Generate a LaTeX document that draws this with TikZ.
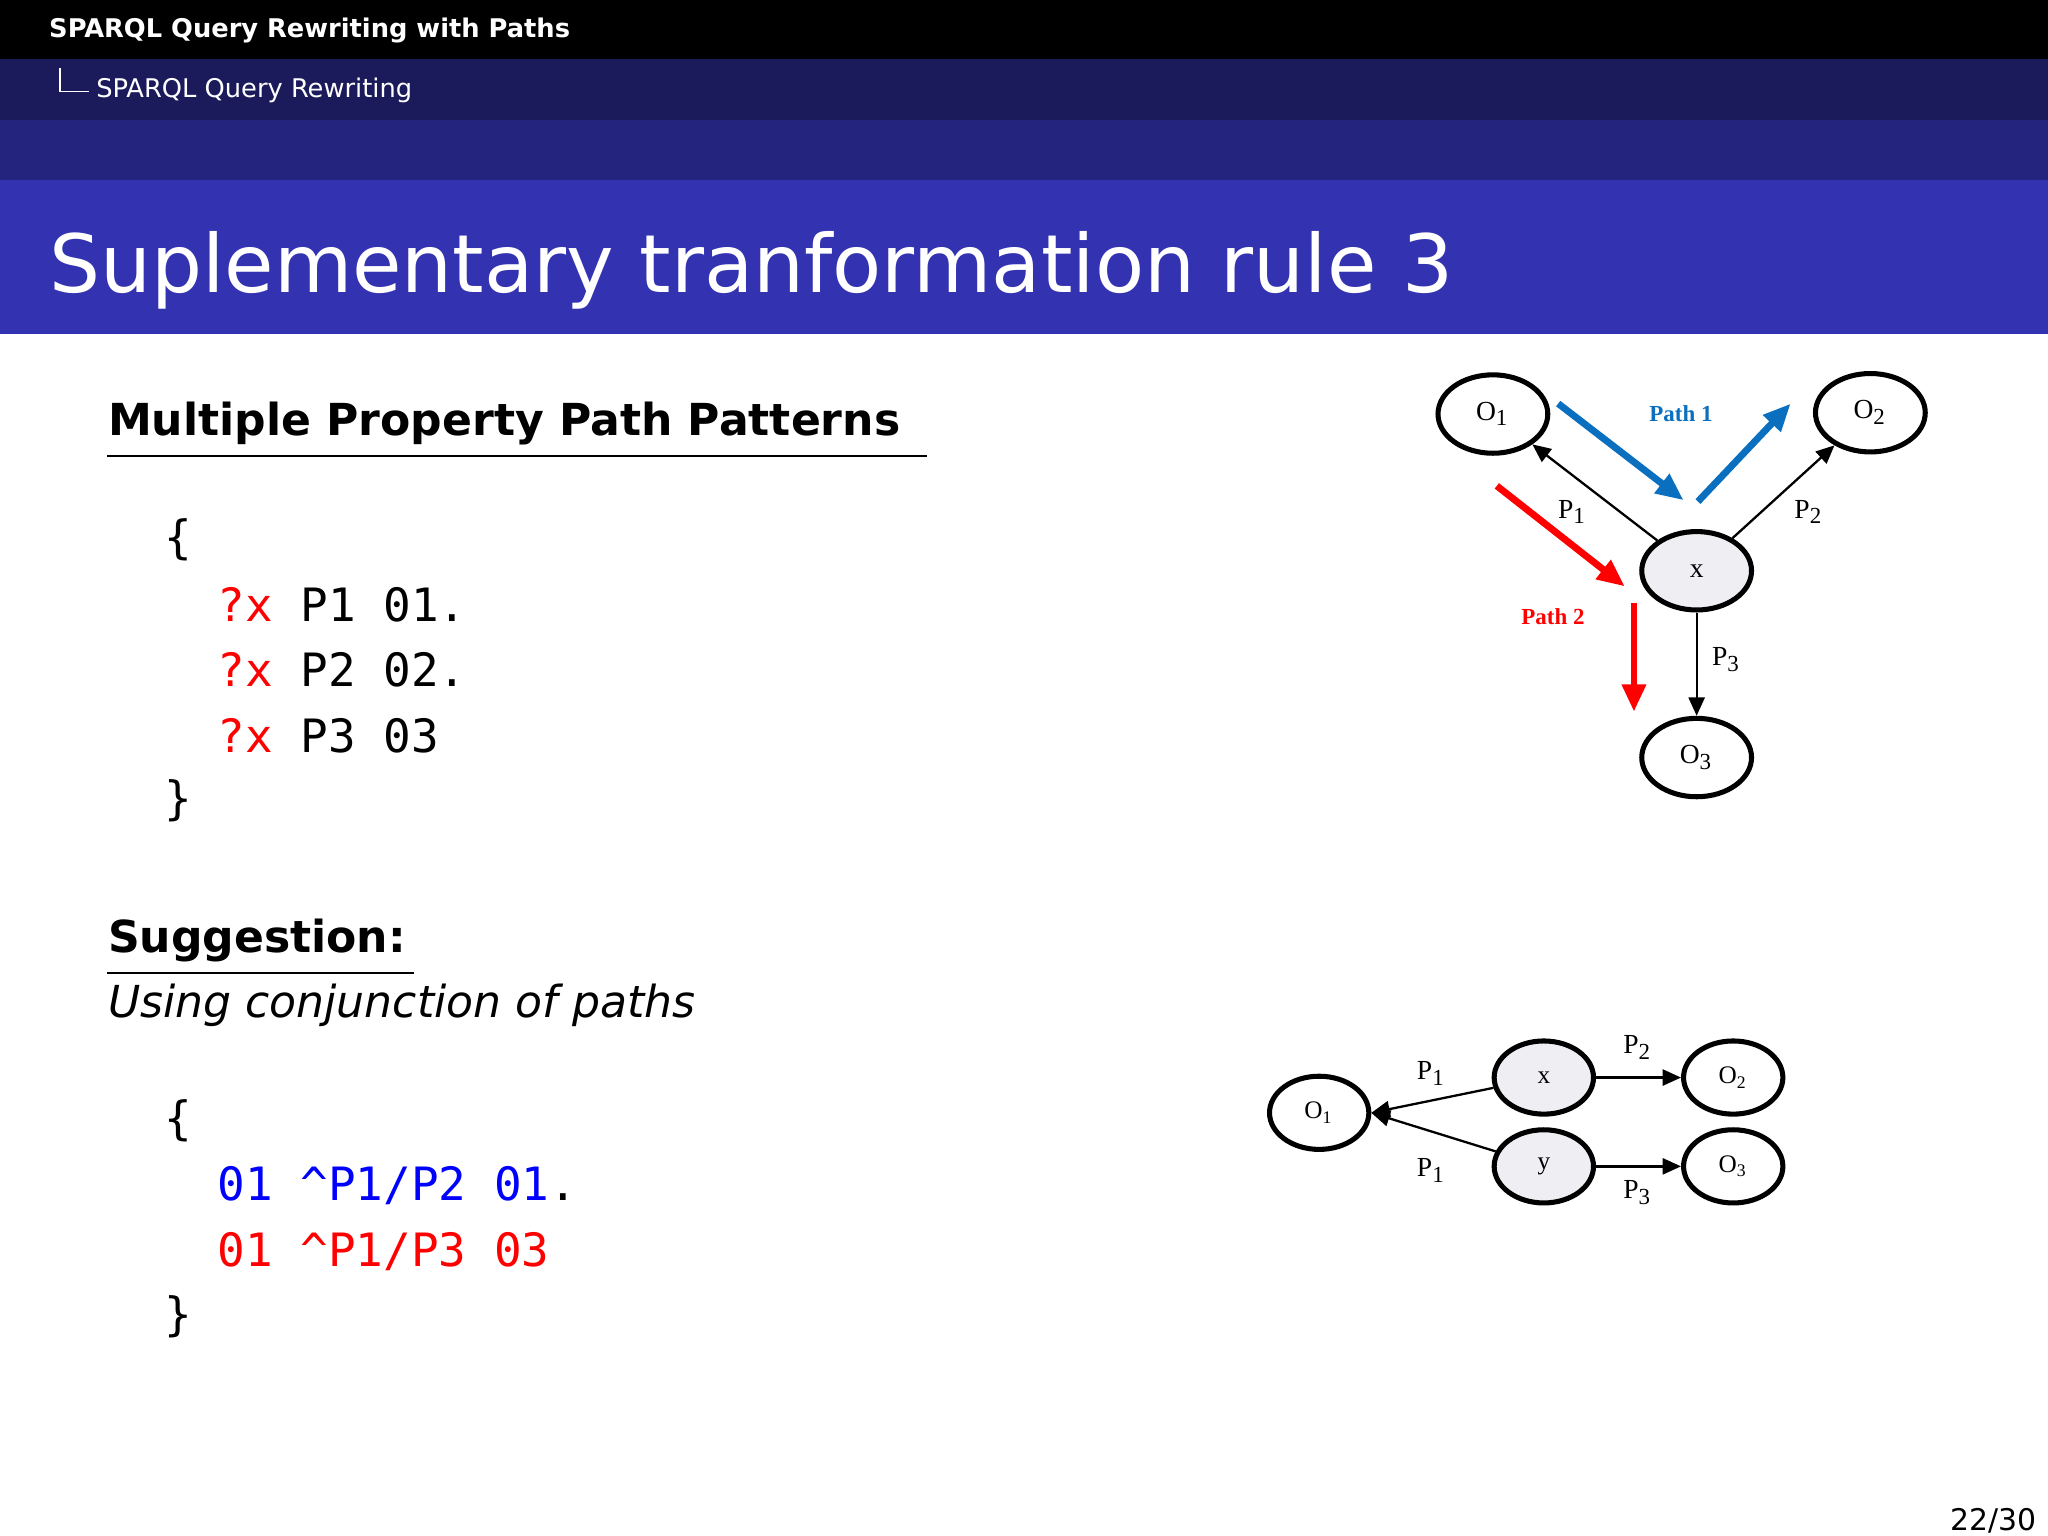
\documentclass[tikz,border=0pt]{standalone}
\usepackage{fontspec}
\setmainfont{DejaVu Sans}
\setmonofont{DejaVu Sans Mono}
\newfontfamily\dia{Liberation Serif}
\usetikzlibrary{arrows.meta,shapes.geometric}
\definecolor{bar2}{HTML}{1B1B5C}
\definecolor{bar3}{HTML}{24247F}
\definecolor{titlebar}{HTML}{3333B2}
\definecolor{pblue}{HTML}{0A6FBF}
\definecolor{nodefill}{HTML}{EFEEF3}
\tikzset{
  gnode/.style={ellipse,draw,line width=1.1pt,minimum width=0.84cm,minimum height=0.6cm,inner sep=0pt,font=\dia\fontsize{6}{7}\selectfont},
  gnode2/.style={gnode,minimum width=0.76cm,minimum height=0.56cm,font=\dia\fontsize{5.5}{6}\selectfont},
  edge/.style={-{Triangle[length=4pt,width=3.5pt]},line width=0.5pt},
  elab/.style={font=\dia\fontsize{6}{7}\selectfont},
  bigarrow/.style={-{Triangle[length=6pt,width=5pt]},line width=1.5pt},
  code/.style={anchor=west,font=\ttfamily\fontsize{10}{12}\selectfont,inner sep=0pt}
}
\begin{document}
\begin{tikzpicture}[x=0.01cm,y=-0.01cm]
\useasboundingbox (0,0) rectangle (1568,1176);
\fill[white] (0,0) rectangle (1568,1176);
\fill[black] (0,0) rectangle (1568,45);
\fill[bar2] (0,45) rectangle (1568,92);
\fill[bar3] (0,92) rectangle (1568,138);
\fill[titlebar] (0,138) rectangle (1568,256);
\node[anchor=west,text=white,font=\bfseries\fontsize{5.6}{6}\selectfont,inner sep=0pt] (h1) at (37,23) {SPARQL Query Rewriting with Paths};
\draw[white,line width=0.4pt] (46,52) |- (68,70);
\node[anchor=west,text=white,font=\fontsize{5.6}{6}\selectfont,inner sep=0pt] (h2) at (73,69) {SPARQL Query Rewriting};
\node[anchor=west,text=white,font=\fontsize{17.5}{20}\selectfont,inner sep=0pt] (title) at (37,207) {Suplementary tranformation rule 3};

\node[anchor=west,font=\bfseries\fontsize{9.6}{11}\selectfont,inner sep=0pt] (mp) at (82,324) {Multiple Property Path Patterns};
\draw[line width=0.5pt] (82,349) -- (710,349);
\node[code] (c1) at (125,413) {\{};
\node[code] (c2) at (166,463) {\textcolor{red}{?x} P1 01.};
\node[code] (c3) at (166,513) {\textcolor{red}{?x} P2 02.};
\node[code] (c4) at (166,563) {\textcolor{red}{?x} P3 03};
\node[code] (c5) at (125,613) {\}};

\node[anchor=west,font=\bfseries\fontsize{9.6}{11}\selectfont,inner sep=0pt] (sg) at (82,720) {Suggestion:};
\draw[line width=0.5pt] (82,745) -- (317,745);
\node[anchor=west,font=\itshape\fontsize{9.6}{11}\selectfont,inner sep=0pt] (uc) at (82,770) {Using conjunction of paths};
\node[code] (d1) at (125,858) {\{};
\node[code] (d2) at (166,908) {\textcolor{blue}{01 \textasciicircum P1/P2 01}.};
\node[code] (d3) at (166,958) {\textcolor{red}{01 \textasciicircum P1/P3 03}};
\node[code] (d4) at (125,1008) {\}};

\node[anchor=east,font=\fontsize{6.5}{7}\selectfont,inner sep=0pt] (pg) at (1560,1164) {22/30};

% diagram 1
\node[gnode] (o1) at (1143,317) {O\textsubscript{1}};
\node[gnode] (o2) at (1432,316) {O\textsubscript{2}};
\node[gnode,fill=nodefill] (x) at (1299,437) {x};
\node[gnode] (o3) at (1299,580) {O\textsubscript{3}};
\draw[edge] (x) -- (o1);
\draw[edge] (x) -- (o2);
\draw[edge] (x) -- (o3);
\node[elab] at (1204,392) {P\textsubscript{1}};
\node[elab] at (1385,392) {P\textsubscript{2}};
\node[elab] at (1322,505) {P\textsubscript{3}};
\coordinate (b1) at (1193,309); \coordinate (b2) at (1289,383);
\coordinate (b3) at (1300,384); \coordinate (b4) at (1371,309);
\draw[bigarrow,pblue] (b1) -- (b2);
\draw[bigarrow,pblue] (b3) -- (b4);
\node[text=pblue,font=\dia\bfseries\fontsize{5}{6}\selectfont] at (1287,317) {Path 1};
\coordinate (r1) at (1146,372); \coordinate (r2) at (1244,449);
\coordinate (r3) at (1251,462); \coordinate (r4) at (1251,545);
\draw[bigarrow,red] (r1) -- (r2);
\draw[bigarrow,red] (r3) -- (r4);
\node[text=red,font=\dia\bfseries\fontsize{5}{6}\selectfont] at (1189,472) {Path 2};

% diagram 2
\node[gnode2] (p1) at (1010,852) {O\textsubscript{1}};
\node[gnode2,fill=nodefill] (px) at (1182,825) {x};
\node[gnode2] (p2) at (1327,825) {O\textsubscript{2}};
\node[gnode2,fill=nodefill] (py) at (1182,893) {y};
\node[gnode2] (p3) at (1327,893) {O\textsubscript{3}};
\draw[edge] (px) -- (p1.east);
\draw[edge] (py) -- (p1.east);
\draw[edge] (px) -- (p2);
\draw[edge] (py) -- (p3);
\node[elab] at (1096,822) {P\textsubscript{1}};
\node[elab] at (1096,896) {P\textsubscript{1}};
\node[elab] at (1254,802) {P\textsubscript{2}};
\node[elab] at (1254,913) {P\textsubscript{3}};
\end{tikzpicture}
\end{document}
